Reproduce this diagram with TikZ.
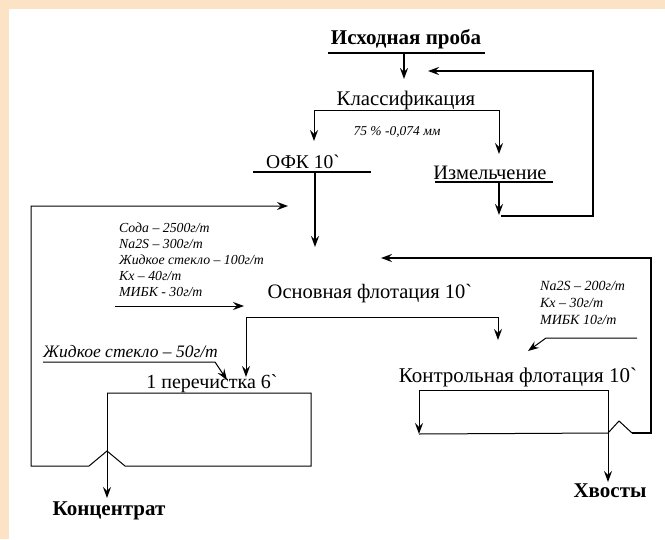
\documentclass[tikz,border=0pt]{standalone}
\usepackage{fontspec}
\setmainfont{Liberation Serif}[Ligatures=TeXOff]
\usetikzlibrary{arrows.meta}
\definecolor{peach}{RGB}{253,227,198}
\begin{document}
\begin{tikzpicture}[x=1pt,y=-1pt,
  heavy/.style={line width=1.7pt},
  medium/.style={line width=1.4pt},
  light/.style={line width=1pt},
  tip/.style={-{Stealth[length=11pt,width=8pt,inset=4pt]}},
  tips/.style={{Stealth[length=11pt,width=8pt,inset=4pt]}-{Stealth[length=11pt,width=8pt,inset=4pt]}},
  stage/.style={inner sep=0pt, font=\fontsize{20.5}{24}\selectfont},
  product/.style={inner sep=0pt, font=\fontsize{21}{24}\selectfont\bfseries},
  dose/.style={inner sep=0pt, font=\fontsize{13.8}{16}\selectfont\itshape, align=left},
]
% page frame
\fill[peach] (0,0) rectangle (665,539);
\fill[white] (9,9) rectangle (665,539);
\useasboundingbox (0,0) rectangle (665,539);

% stage labels
\node[product] (src) at (406,39) {Исходная проба};
\node[stage, font=\fontsize{20.8}{24}\selectfont] (cls) at (406,100) {Классификация};
\node[dose, font=\fontsize{13.5}{15}\selectfont\itshape] (size) at (397,132) {75 \% -0,074 мм};
\node[stage, font=\fontsize{19.5}{23}\selectfont] (ofk) at (303,162) {ОФК 10`};
\node[stage] (grind) at (490,173) {Измельчение};
\node[stage] (main) at (370,294) {Основная флотация 10`};
\node[stage, font=\fontsize{20}{24}\selectfont] (clean) at (212,384) {1 перечистка 6`};
\node[stage, font=\fontsize{21}{24}\selectfont] (scav) at (518,377) {Контрольная флотация 10`};
\node[product] (conc) at (109,511) {Концентрат};
\node[product] (tails) at (610,491) {Хвосты};

% reagent doses
\node[dose, anchor=north west] (reagMain) at (119,223)
  {Сода – 2500г/т\\Na2S – 300г/т\\Жидкое стекло – 100г/т\\Кх – 40г/т\\МИБК - 30г/т};
\node[dose, anchor=north west, font=\fontsize{14}{17}\selectfont\itshape] (reagScav) at (540,281)
  {Na2S – 200г/т\\Кх – 30г/т\\МИБК 10г/т};
\node[dose, anchor=west, font=\fontsize{17.5}{20}\selectfont\itshape] (reagClean) at (43,352) {Жидкое стекло – 50г/т};

% connector points
\coordinate (srcL) at (328,53);   \coordinate (srcR) at (485,53);
\coordinate (srcOut) at (404,53); \coordinate (clsIn) at (404,79);
\coordinate (clsL) at (314,110);  \coordinate (clsR) at (499,110);
\coordinate (ofkIn) at (314,141); \coordinate (grindIn) at (499,154);
\coordinate (grindL) at (435,182); \coordinate (grindR) at (553,182);
\coordinate (grindOut) at (499,182); \coordinate (grindBack) at (499,215);
\coordinate (recB) at (501,216); \coordinate (recC) at (593,216);
\coordinate (recD) at (593,71);  \coordinate (clsBack) at (428,71);
\coordinate (ofkL) at (253,172); \coordinate (ofkR) at (371,172);
\coordinate (ofkOut) at (315,172); \coordinate (mainIn) at (315,247);
\coordinate (reagFrom) at (115,306); \coordinate (reagTo) at (244,306);
\coordinate (mainL) at (246,317); \coordinate (mainR) at (498,317);
\coordinate (cleanIn) at (246,377); \coordinate (scavIn) at (498,340);
\coordinate (clTL) at (107,393); \coordinate (clTR) at (311,393);
\coordinate (clBR) at (311,466); \coordinate (jumpA) at (125,466);
\coordinate (jumpTop) at (107,451); \coordinate (jumpB) at (89,466);
\coordinate (loopBL) at (31,466); \coordinate (loopTL) at (31,206);
\coordinate (ofkSide) at (288,206); \coordinate (concIn) at (107,498);
\coordinate (wgL) at (43,362); \coordinate (wgR) at (215,362);
\coordinate (wgTo) at (227,380);
\coordinate (scTL) at (419,390); \coordinate (scTR) at (608,390);
\coordinate (scBL) at (419,434); \coordinate (scBR) at (608,433);
\coordinate (bumpTop) at (619,421); \coordinate (bumpEnd) at (632,433);
\coordinate (retC) at (651,433); \coordinate (retD) at (651,258);
\coordinate (mainBack) at (381,258); \coordinate (tailsIn) at (608,482);
\coordinate (rrFrom) at (637,338); \coordinate (rrBend) at (546,338);
\coordinate (scavDose) at (528,351);

% feed and classification
\draw[heavy] (srcL) -- (srcR);
\draw[heavy,tip] (srcOut) -- (clsIn);
\draw[light,tips] (ofkIn) -- (clsL) -- (clsR) -- (grindIn);

% grinding circuit
\draw[medium] (grindL) -- (grindR);
\draw[heavy,tip] (grindOut) -- (grindBack);
\draw[heavy,tip] (recB) -- (recC) -- (recD) -- (clsBack);

% OFK to rougher
\draw[heavy] (ofkL) -- (ofkR);
\draw[heavy,tip] (ofkOut) -- (mainIn);
\draw[light,tip] (reagFrom) -- (reagTo);

% rougher split
\draw[light,tips] (cleanIn) -- (mainL) -- (mainR) -- (scavIn);

% cleaner and its tailings loop
\draw[light,tip] (wgL) -- (wgR) -- (wgTo);
\draw[light,tip] (clTL) -- (clTR) -- (clBR) -- (jumpA) -- (jumpTop) -- (jumpB)
  -- (loopBL) -- (loopTL) -- (ofkSide);
\draw[light,tip] (clTL) -- (concIn);

% scavenger and its concentrate loop
\draw[light,tip] (rrFrom) -- (rrBend) -- (scavDose);
\draw[light,tip] (scTR) -- (scTL) -- (scBL);
\draw[light] (scBL) -- (scBR) -- (bumpTop) -- (bumpEnd);
\draw[heavy,tip] (bumpEnd) -- (retC) -- (retD) -- (mainBack);
\draw[light,tip] (scTR) -- (tailsIn);
\end{tikzpicture}
\end{document}
